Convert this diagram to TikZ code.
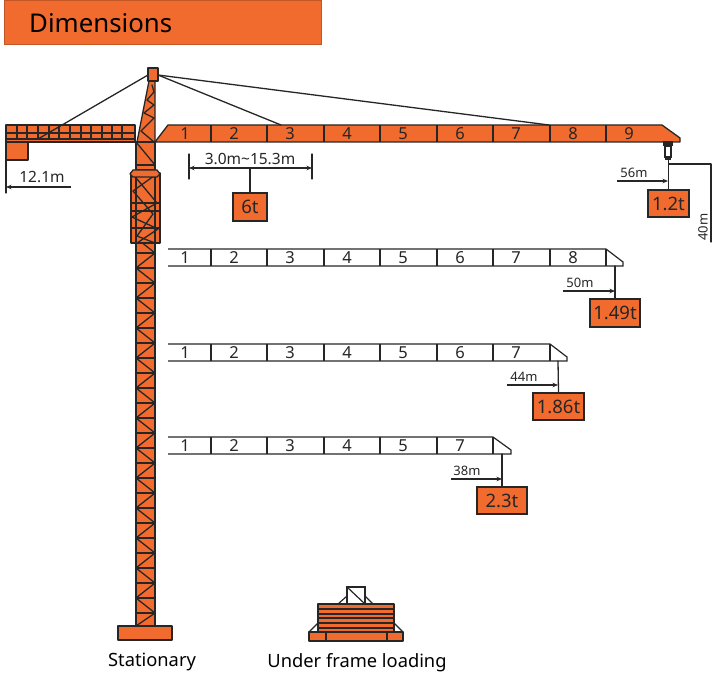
\documentclass[tikz,border=0pt]{standalone}
\usepackage{fontspec}
\setmainfont{Noto Sans}
\usetikzlibrary{arrows.meta,calc}
\definecolor{crane}{HTML}{F26B2E}
\definecolor{ink}{HTML}{262626}
\newcommand\myfs[1]{\fontsize{#1}{#1}\selectfont}
\tikzset{
  part/.style={draw=ink,fill=crane,line width=1.3pt,line join=round},
  thin part/.style={draw=ink,line width=1.2pt},
  tie/.style={draw=ink,line width=1.3pt,line join=round,line cap=round},
  dimline/.style={draw=ink,line width=1.3pt,-{Stealth[length=5.5pt,width=4.5pt]}},
  loadbox/.style={draw=ink,fill=crane,line width=1.2pt,inner sep=0pt,text=ink,font=\myfs{18.5}},
  cellnum/.style={inner sep=0pt,text=ink,font=\myfs{16.5}},
  dimtext/.style={inner sep=0pt,text=ink,font=\myfs{13}},
  bigdim/.style={inner sep=0pt,text=ink,font=\myfs{15.5}},
  caption/.style={inner sep=0pt,text=black,font=\myfs{18.3}},
}
\begin{document}
\begin{tikzpicture}[x=1pt,y=-1pt]
\useasboundingbox (0,0) rectangle (712,679);
% title
\node[draw=crane!80!black,fill=crane,line width=0.6pt,minimum width=317pt,minimum height=44pt,anchor=north west,inner sep=0pt] (title) at (4,0) {};
\node[inner sep=0pt,anchor=west,text=black,font=\myfs{25.8}] (titletext) at (29,23) {Dimensions};

% counter jib
\fill[crane] (6,125) rectangle (135,142);
\foreach \x in {17,27,38,49,59,70,81,91,102,112,122}
  \draw[thin part] (\x,125) -- (\x,139);
\draw[part,fill=none] (6,125) rectangle (135,142);
\draw[thin part] (6,133) -- (135,133) (6,139) -- (135,139);
\draw[part] (6,142) rectangle (28,160);

% main jib
\draw[part] (155,142) -- (168,125) -- (662,125) -- (680,138) -- (680,142) -- cycle;
\foreach \x in {211,267,324,380,437,493,550,606}
  \draw[thin part] (\x,125) -- (\x,142);
\foreach \n/\x in {1/185,2/234,3/290,4/347,5/403,6/460,7/516,8/573,9/629}
  \node[cellnum] (mj\n) at (\x,134) {\n};

% tower top
\draw[part] (149,81) -- (137,142) -- (155,142) -- (155,81) -- cycle;
\draw[tie] (152,85) -- (154,92) -- (147,100) -- (154,105) -- (144,113) -- (154,118) -- (141,131) -- (154,142) -- (137,142);
\draw[part] (136,142) rectangle (155,165);
\draw[tie] (136,142) -- (155,165);
\draw[part] (136,165) rectangle (155,170);

% mast
\draw[part] (136,243) rectangle (155,626);
\foreach \y in {253,268,...,613}
  \draw[thin part] (136,\y) -- (155,\y);
\foreach \y [evaluate=\y as \m using \y+15, evaluate=\y as \e using \y+30] in {253,283,...,583}
  \draw[tie] (155,\y) -- (136,\m) -- (155,\e);
\draw[tie] (136,238) -- (155,253);
\draw[tie] (155,613) -- (136,626);

% climbing frame
\draw[part] (131,173) rectangle (160,243);
\draw[thin part] (136,173) -- (136,243) (155,173) -- (155,243);
\draw[thin part] (131,203) -- (160,203) (131,228) -- (160,228) (131,211) -- (160,211);
\draw[tie] (132,173) -- (157,203) -- (132,217) -- (158,229) -- (137,243);
\draw[tie] (158,173) -- (133,191) -- (153,214) -- (137,236) -- (155,243);
\draw[part] (133,170) -- (157,170) -- (160,174) -- (157,177) -- (133,177) -- (130,174) -- cycle;

% head
\draw[part] (148,68) rectangle (158,81);
\coordinate (headL) at (148,75);
\coordinate (headR) at (158,75);
\coordinate (tieA) at (38,139);
\coordinate (tieB) at (281,125);
\coordinate (tieC) at (549,125);
\draw[tie] (headL) -- (tieA);
\draw[tie] (headR) -- (tieB);
\draw[tie] (headR) -- (tieC);

% base
\draw[part,line width=1.4pt] (118,626) rectangle (172,640);

% 12.1m
\coordinate (cwA) at (6,160);
\coordinate (cwB) at (6,193);
\coordinate (cwC) at (71,187);
\coordinate (cwD) at (6,187);
\draw[tie] (cwA) -- (cwB);
\draw[dimline] (cwC) -- (cwD);
\node[bigdim] (d121) at (42,177) {12.1m};

% 3.0-15.3m
\coordinate (raL) at (189,168);
\coordinate (raR) at (312,168);
\coordinate (raM) at (250,168);
\draw[tie] (189,154) -- (189,179) (312,154) -- (312,179);
\draw[dimline,{Stealth[length=5.5pt,width=4.5pt]}-{Stealth[length=5.5pt,width=4.5pt]}] (raL) -- (raR);
\node[bigdim] (drange) at (250,159) {3.0m\textasciitilde15.3m};
\node[loadbox,minimum width=34pt,minimum height=28pt] (b6) at (250,207) {6t};
\draw[tie] (raM) -- (b6.north);

% trolley
\draw[draw=ink,fill=white,line width=1.2pt] (665,146) rectangle (671,157);
\fill[ink] (663,141) rectangle (673,146);
\fill[ink] (665,157) rectangle (671,160);
\coordinate (hook) at (668.5,160);
\node[loadbox,minimum width=41pt,minimum height=27pt] (b12) at (668.5,203.5) {1.2t};
\draw[tie] (hook) -- (b12.north);
\coordinate (hA) at (668.5,164);
\coordinate (hB) at (711,164);
\coordinate (hC) at (711,242);
\draw[tie] (hA) -- (hB) -- (hC);
\node[dimtext,rotate=90] (d40) at (703,227) {40m};
\coordinate (a56) at (617,181);
\coordinate (b56) at (668,181);
\draw[dimline] (a56) -- (b56);
\node[dimtext] (d56) at (634,172.5) {56m};

% row 2
\draw[thin part] (168,249) -- (606,249) -- (623,262) -- (623,266) -- (168,266);
\foreach \x in {211,267,324,380,437,493,550,606}
  \draw[thin part] (\x,249) -- (\x,266);
\foreach \n/\x in {1/185,2/234,3/290,4/347,5/403,6/460,7/516,8/573}
  \node[cellnum] (ra\n) at (\x,258) {\n};
\coordinate (h2) at (615,266);
\node[loadbox,minimum width=50pt,minimum height=28pt] (b149) at (615,313) {1.49t};
\draw[tie] (h2) -- (b149.north);
\coordinate (a50) at (563,291);
\coordinate (b50) at (615,291);
\draw[dimline] (a50) -- (b50);
\node[dimtext] (d50) at (580,283) {50m};

% row 3
\draw[thin part] (168,344) -- (550,344) -- (567,357) -- (567,361) -- (168,361);
\foreach \x in {211,267,324,380,437,493,550}
  \draw[thin part] (\x,344) -- (\x,361);
\foreach \n/\x in {1/185,2/234,3/290,4/347,5/403,6/460,7/516}
  \node[cellnum] (rb\n) at (\x,353) {\n};
\coordinate (h3) at (558,361);
\node[loadbox,minimum width=51pt,minimum height=27pt] (b186) at (558.5,406.5) {1.86t};
\draw[tie] (h3) -- (b186.north);
\coordinate (a44) at (507,385);
\coordinate (b44) at (558,385);
\draw[dimline] (a44) -- (b44);
\node[dimtext] (d44) at (524,377) {44m};

% row 4
\draw[thin part] (168,437) -- (493,437) -- (511,450) -- (511,454) -- (168,454);
\foreach \x in {211,267,324,380,437,493}
  \draw[thin part] (\x,437) -- (\x,454);
\foreach \n/\x in {1/185,2/234,3/290,4/347,5/403,7/460}
  \node[cellnum] (rc\n) at (\x,446) {\n};
\coordinate (h4) at (502,454);
\node[loadbox,minimum width=50pt,minimum height=27pt] (b23) at (502,500.5) {2.3t};
\draw[tie] (h4) -- (b23.north);
\coordinate (a38) at (451,479);
\coordinate (b38) at (502,479);
\draw[dimline] (a38) -- (b38);
\node[dimtext] (d38) at (467,471) {38m};

% under frame loading
\draw[thin part] (338,604) -- (347,596) (373,604) -- (365,596);
\draw[thin part] (347,587) rectangle (365,604);
\draw[thin part] (347,587) -- (365,604);
\draw[part] (318,604) rectangle (394,632);
\foreach \y in {609,614,618,623,628}
  \draw[thin part] (318,\y) -- (394,\y);
\draw[thin part] (309,632) -- (318,623) (403,632) -- (394,623);
\draw[part] (309,632) rectangle (403,641);
\draw[thin part] (326,632) -- (326,641) (387,632) -- (387,641);

% captions
\node[caption] (cap1) at (152,662) {Stationary};
\node[caption] (cap2) at (357,663) {Under frame loading};
\end{tikzpicture}
\end{document}
